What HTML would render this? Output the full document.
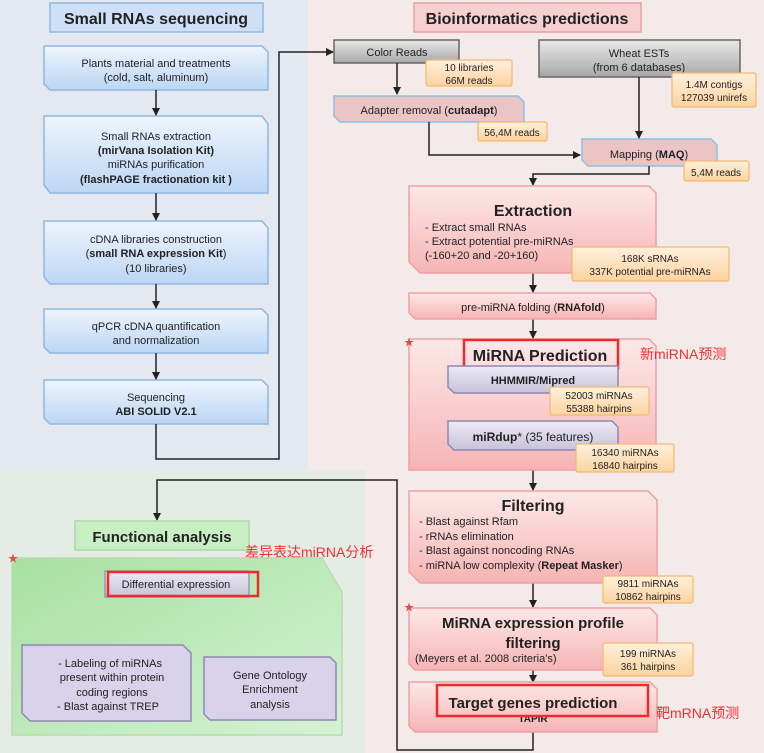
<!DOCTYPE html>
<html><head><meta charset="utf-8"><style>
html,body{margin:0;padding:0;width:764px;height:753px;overflow:hidden;background:#f4eaea}
svg{display:block}
text{font-family:"Liberation Sans","Noto Sans CJK SC",sans-serif;fill:#222}
.b{font-weight:bold}
.cn{fill:#f03030;font-size:14px}
.st{fill:#d85050;font-size:10px}
</style></head><body>
<svg width="764" height="753" viewBox="0 0 764 753" xmlns="http://www.w3.org/2000/svg">
<defs>
<linearGradient id="blue" x1="0" y1="0" x2="0" y2="1"><stop offset="0" stop-color="#eef4fc"/><stop offset="1" stop-color="#bcd6f4"/></linearGradient>
<linearGradient id="pink" x1="0" y1="0" x2="0" y2="1"><stop offset="0" stop-color="#fde8e8"/><stop offset="1" stop-color="#f6b4b4"/></linearGradient>
<linearGradient id="gray" x1="0" y1="0" x2="0" y2="1"><stop offset="0" stop-color="#e8e8e8"/><stop offset="1" stop-color="#a8a8a8"/></linearGradient>
<linearGradient id="org" x1="0" y1="0" x2="0" y2="1"><stop offset="0" stop-color="#fff0dc"/><stop offset="1" stop-color="#fbd3a0"/></linearGradient>
<linearGradient id="lav" x1="0" y1="0" x2="0" y2="1"><stop offset="0" stop-color="#ecebf4"/><stop offset="1" stop-color="#c8c2da"/></linearGradient>
<linearGradient id="grn" x1="0" y1="0" x2="1" y2="1"><stop offset="0" stop-color="#a8e0a0"/><stop offset="1" stop-color="#d4f2d4"/></linearGradient>
<marker id="ar" markerWidth="8" markerHeight="8" refX="7" refY="4" orient="auto" markerUnits="userSpaceOnUse"><path d="M0,0 L8,4 L0,8 z" fill="#222"/></marker>
</defs>
<rect x="0" y="0" width="308" height="470" fill="#e4e8f0"/>
<rect x="308" y="0" width="456" height="753" fill="#f4eaea"/>
<rect x="0" y="470" width="365" height="283" fill="#e5ece6"/>

<rect x="50" y="3" width="213" height="29" fill="#cfe0f6" stroke="#8fb8e2" stroke-width="1.5"/>
<text x="156" y="24" font-size="16" class="b" text-anchor="middle">Small RNAs sequencing</text>
<g stroke="#8fb8e2" stroke-width="1.5" fill="url(#blue)">
<polygon points="44,46 262,46 268,52 268,90 50,90 44,84"/>
<polygon points="44,116 262,116 268,124 268,193 50,193 44,185"/>
<polygon points="44,221 262,221 268,228 268,284 50,284 44,277"/>
<polygon points="44,309 262,309 268,315 268,353 50,353 44,347"/>
<polygon points="44,380 262,380 268,386 268,424 50,424 44,418"/>
</g>
<g font-size="11" text-anchor="middle">
<text x="156" y="67">Plants  material and treatments</text>
<text x="156" y="81">(cold, salt, aluminum)</text>
<text x="156" y="140">Small RNAs extraction</text>
<text x="156" y="154" class="b">(mirVana Isolation Kit)</text>
<text x="156" y="168">miRNAs purification</text>
<text x="156" y="183" class="b">(flashPAGE fractionation kit )</text>
<text x="156" y="243">cDNA libraries construction</text>
<text x="156" y="257">(<tspan class="b">small RNA expression Kit</tspan>)</text>
<text x="156" y="272">(10 libraries)</text>
<text x="156" y="330">qPCR cDNA quantification</text>
<text x="156" y="344">and normalization</text>
<text x="156" y="401">Sequencing</text>
<text x="156" y="415" class="b">ABI SOLID V2.1</text>
</g>
<g stroke="#222" stroke-width="1.5" fill="none">
<line x1="156" y1="90" x2="156" y2="115" marker-end="url(#ar)"/>
<line x1="156" y1="193" x2="156" y2="220" marker-end="url(#ar)"/>
<line x1="156" y1="284" x2="156" y2="308" marker-end="url(#ar)"/>
<line x1="156" y1="353" x2="156" y2="379" marker-end="url(#ar)"/>
<polyline points="156,424 156,459 279,459 279,52 333,52" marker-end="url(#ar)"/>
</g>

<rect x="414" y="3" width="227" height="29" fill="#f6cfd0" stroke="#eaa0a4" stroke-width="1.5"/>
<text x="527" y="24" font-size="16" class="b" text-anchor="middle">Bioinformatics predictions</text>

<polygon points="334,40 459,40 459,63 334,63" fill="url(#gray)" stroke="#666" stroke-width="1.5"/>
<text x="397" y="56" font-size="11" text-anchor="middle">Color Reads</text>
<polygon points="539,40 740,40 740,77 539,77" fill="url(#gray)" stroke="#666" stroke-width="1.5"/>
<text x="639" y="57" font-size="11" text-anchor="middle">Wheat ESTs</text>
<text x="639" y="71" font-size="11" text-anchor="middle">(from 6 databases)</text>

<polygon points="334,96 518,96 524,102 524,122 340,122 334,116" fill="#ebc4c6" stroke="#8fc0e0" stroke-width="1.5"/>
<text x="429" y="114" font-size="11" text-anchor="middle">Adapter removal (<tspan class="b">cutadapt</tspan>)</text>

<polygon points="582,139 711,139 717,145 717,166 588,166 582,160" fill="#ebc4c6" stroke="#8fc0e0" stroke-width="1.5"/>
<text x="649" y="158" font-size="11" text-anchor="middle">Mapping (<tspan class="b">MAQ</tspan>)</text>

<g stroke="#222" stroke-width="1.5" fill="none">
<line x1="397" y1="63" x2="397" y2="94" marker-end="url(#ar)"/>
<line x1="639" y1="77" x2="639" y2="138" marker-end="url(#ar)"/>
<polyline points="429,122 429,155 580,155" marker-end="url(#ar)"/>
<polyline points="649,166 649,174 533,174 533,185" marker-end="url(#ar)"/>
<line x1="533" y1="273" x2="533" y2="292" marker-end="url(#ar)"/>
<line x1="533" y1="319" x2="533" y2="338" marker-end="url(#ar)"/>
<line x1="533" y1="393" x2="533" y2="420" marker-end="url(#ar)"/>
<line x1="533" y1="470" x2="533" y2="490" marker-end="url(#ar)"/>
<line x1="533" y1="583" x2="533" y2="607" marker-end="url(#ar)"/>
<line x1="533" y1="670" x2="533" y2="682" marker-end="url(#ar)"/>
<polyline points="533,732 533,750 397,750 397,480 157,480 157,520" marker-end="url(#ar)"/>
</g>

<g stroke="#eea0a4" stroke-width="1.5" fill="url(#pink)">
<polygon points="409,186 649,186 656,193 656,273 420,273 409,262"/>
<polygon points="409,293 650,293 656,299 656,319 415,319 409,313"/>
<polygon points="409,339 649,339 656,346 656,470 409,470"/>
<polygon points="409,491 648,491 657,500 657,583 420,583 409,572"/>
<polygon points="409,608 650,608 657,615 657,670 415,670 409,664"/>
<polygon points="409,682 650,682 657,689 657,732 415,732 409,726"/>
</g>
<text x="533" y="216" font-size="16" class="b" text-anchor="middle">Extraction</text>
<g font-size="11">
<text x="425" y="231">- Extract small RNAs</text>
<text x="425" y="245">- Extract potential pre-miRNAs</text>
<text x="425" y="259">(-160+20 and -20+160)</text>
</g>
<text x="533" y="311" font-size="11" text-anchor="middle">pre-miRNA folding (<tspan class="b">RNAfold</tspan>)</text>

<text x="540" y="361" font-size="16" class="b" text-anchor="middle">MiRNA Prediction</text>
<rect x="464" y="340" width="154" height="28" fill="none" stroke="#f02a2a" stroke-width="2.5"/>
<text x="640" y="359" class="cn">新miRNA预测</text>

<g stroke="#8f88b0" stroke-width="1.5" fill="url(#lav)">
<polygon points="448,366 618,366 618,393 454,393 448,387"/>
<polygon points="448,421 612,421 618,427 618,450 454,450 448,444"/>
</g>
<text x="533" y="384" font-size="11" class="b" text-anchor="middle">HHMMIR/Mipred</text>
<text x="533" y="441" font-size="12" text-anchor="middle"><tspan class="b">miRdup</tspan>* (35 features)</text>

<text x="533" y="511" font-size="16" class="b" text-anchor="middle">Filtering</text>
<g font-size="11">
<text x="419" y="525">- Blast against Rfam</text>
<text x="419" y="540">- rRNAs elimination</text>
<text x="419" y="554">- Blast against noncoding RNAs</text>
<text x="419" y="569">- miRNA low complexity (<tspan class="b">Repeat Masker</tspan>)</text>
</g>
<text x="533" y="628" font-size="15" class="b" text-anchor="middle">MiRNA expression profile</text>
<text x="533" y="648" font-size="15" class="b" text-anchor="middle">filtering</text>
<text x="415" y="662" font-size="11">(Meyers et al. 2008 criteria's)</text>
<text x="533" y="722" font-size="10" class="b" text-anchor="middle">TAPIR</text>
<text x="533" y="708" font-size="15" class="b" text-anchor="middle">Target genes prediction</text>
<rect x="437" y="685" width="211" height="31" fill="none" stroke="#f02a2a" stroke-width="2.5"/>
<text x="656" y="718" class="cn">靶mRNA预测</text>

<g stroke="#f4b870" stroke-width="1.2" fill="url(#org)">
<rect x="426" y="60" width="86" height="26" rx="2"/>
<rect x="478" y="122" width="69" height="19" rx="2"/>
<rect x="672" y="73" width="84" height="34" rx="2"/>
<rect x="684" y="161" width="65" height="20" rx="2"/>
<rect x="572" y="247" width="157" height="34" rx="2"/>
<rect x="550" y="387" width="99" height="28" rx="2"/>
<rect x="576" y="444" width="98" height="28" rx="2"/>
<rect x="603" y="576" width="90" height="27" rx="2"/>
<rect x="603" y="643" width="90" height="33" rx="2"/>
<rect x="161" y="592" width="74" height="20" rx="2"/>
</g>
<g font-size="10" text-anchor="middle">
<text x="469" y="71">10 libraries</text><text x="469" y="84">66M reads</text>
<text x="512" y="136">56,4M reads</text>
<text x="714" y="88">1.4M contigs</text><text x="714" y="101">127039 unirefs</text>
<text x="716" y="176">5,4M reads</text>
<text x="650" y="262">168K sRNAs</text><text x="650" y="275">337K potential pre-miRNAs</text>
<text x="599" y="399">52003 miRNAs</text><text x="599" y="412">55388 hairpins</text>
<text x="625" y="456">16340 miRNAs</text><text x="625" y="469">16840 hairpins</text>
<text x="648" y="587">9811 miRNAs</text><text x="648" y="600">10862 hairpins</text>
<text x="648" y="657">199 miRNAs</text><text x="648" y="670">361 hairpins</text>
<text x="198" y="606">182 miRNAs</text>
</g>

<rect x="75" y="521" width="174" height="29" fill="#c8eec4" stroke="#a8d8a4" stroke-width="1.5"/>
<text x="162" y="542" font-size="15" class="b" text-anchor="middle">Functional analysis</text>
<text x="245" y="557" class="cn">差异表达miRNA分析</text>
<polygon points="12,558 322,558 342,592 342,735 12,735" fill="url(#grn)" stroke="#b8dcb0" stroke-width="1.5"/>
<polygon points="105,571 249,571 249,597 105,597" fill="url(#lav)" stroke="#8f88b0" stroke-width="1.2"/>
<text x="176" y="588" font-size="11" text-anchor="middle">Differential expression</text>
<rect x="108" y="572" width="150" height="24" fill="none" stroke="#f02a2a" stroke-width="2.5"/>
<g stroke="#8f88b0" stroke-width="1.5" fill="#d8d2ea">
<polygon points="22,645 183,645 191,653 191,721 30,721 22,713"/>
<polygon points="204,657 330,657 336,663 336,720 210,720 204,714"/>
</g>
<g font-size="11" text-anchor="middle">
<text x="110" y="667">-  Labeling of miRNAs</text>
<text x="112" y="681">present within protein</text>
<text x="112" y="696">coding regions</text>
<text x="108" y="710">-  Blast against TREP</text>
<text x="270" y="679">Gene Ontology</text>
<text x="270" y="693">Enrichment</text>
<text x="270" y="708">analysis</text>
</g>
<text x="8" y="562" class="st">★</text><text x="404" y="346" class="st">★</text><text x="404" y="611" class="st">★</text>
</svg>
</body></html>
